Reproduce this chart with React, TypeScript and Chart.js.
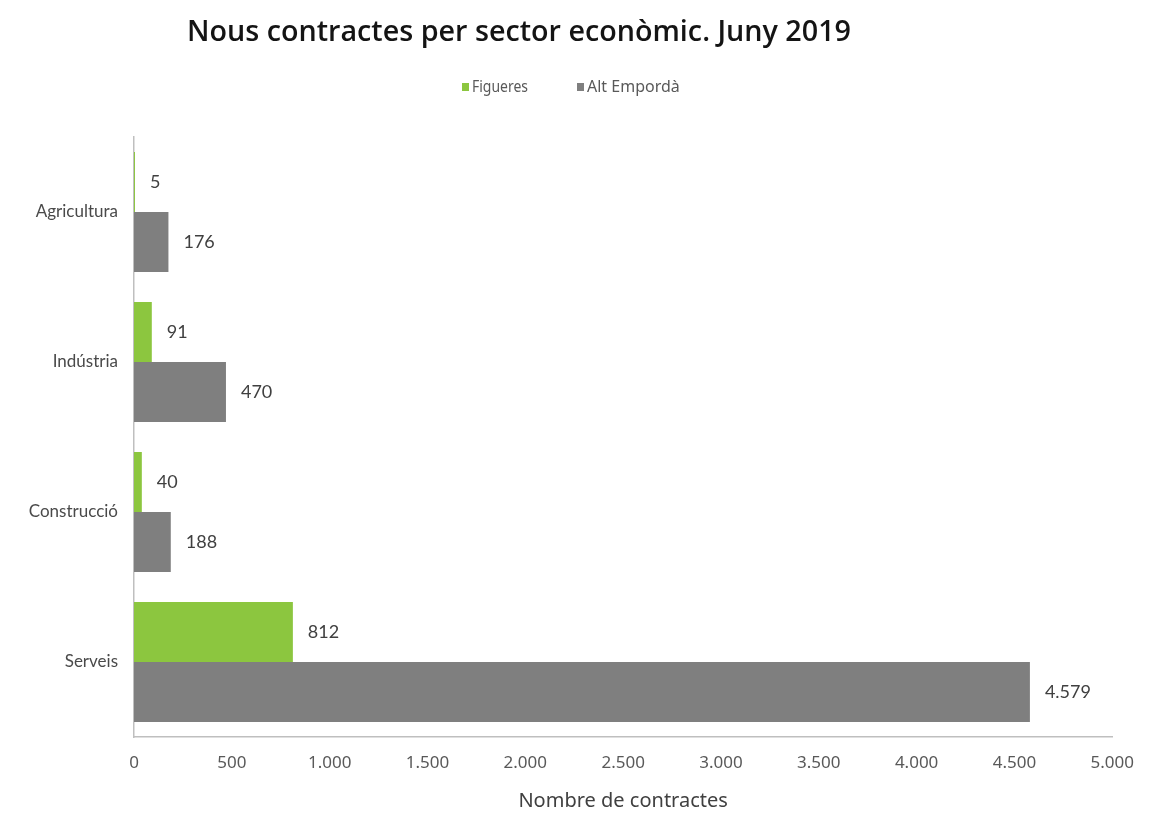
import React, { useEffect, useRef } from "react";
import { Chart, registerables } from "chart.js";

Chart.register(...registerables);

const titleText = "Nous contractes per sector econòmic. Juny 2019";
const categories = ["Agricultura", "Indústria", "Construcció", "Serveis"];
const figueres = [5, 91, 40, 812];
const altEmporda = [176, 470, 188, 4579];
const seriesNames = ["Figueres", "Alt Empordà"];
const seriesColors = ["#8cc63f", "#7f7f7f"];
const xTicks = [0, 500, 1000, 1500, 2000, 2500, 3000, 3500, 4000, 4500, 5000];
const xTitle = "Nombre de contractes";

const fmt = (v: number) => String(Math.round(v)).replace(/\B(?=(\d{3})+(?!\d))/g, ".");

const overlayPlugin = {
  id: "overlay",
  afterDraw(chart: any) {
    const ctx = chart.ctx;
    ctx.save();
    // title
    ctx.fillStyle = "#141414";
    ctx.font = "600 29px 'Open Sans'";
    ctx.textAlign = "center";
    ctx.textBaseline = "middle";
    ctx.fillText(titleText, 519, 33, 664);
    // legend
    ctx.font = "16px 'Noto Sans'";
    ctx.textAlign = "left";
    const items = [
      { x: 462, w: 56, label: seriesNames[0], color: seriesColors[0] },
      { x: 577, w: 117, label: seriesNames[1], color: seriesColors[1] },
    ];
    items.forEach((it) => {
      ctx.fillStyle = it.color;
      ctx.fillRect(it.x, 83, 7, 8);
      ctx.fillStyle = "#595959";
      ctx.fillText(it.label, it.x + 10, 87, it.w);
    });
    // data labels
    ctx.font = "18px Lato";
    ctx.fillStyle = "#404040";
    ctx.textBaseline = "middle";
    chart.data.datasets.forEach((ds: any, di: number) => {
      const meta = chart.getDatasetMeta(di);
      meta.data.forEach((bar: any, i: number) => {
        ctx.fillText(fmt(ds.data[i]), bar.x + 15, bar.y);
      });
    });
    ctx.restore();
  },
};

export default function App() {
  const ref = useRef<HTMLCanvasElement>(null);
  useEffect(() => {
    document.body.style.margin = "0";
    const chart = new Chart(ref.current!, {
      type: "bar",
      data: {
        labels: categories,
        datasets: [
          { label: seriesNames[0], data: figueres, backgroundColor: seriesColors[0] },
          { label: seriesNames[1], data: altEmporda, backgroundColor: seriesColors[1] },
        ],
      },
      options: {
        indexAxis: "y",
        responsive: false,
        animation: false,
        categoryPercentage: 0.8,
        barPercentage: 1.0,
        layout: { padding: { top: 137, right: 37, bottom: 0, left: 0 } },
        plugins: {
          legend: { display: false },
          title: { display: false },
          tooltip: { enabled: false },
        },
        scales: {
          x: {
            min: 0,
            max: 5000,
            afterBuildTicks: (scale: any) => {
              scale.ticks = xTicks.map((v) => ({ value: v }));
            },
            afterFit: (scale: any) => {
              scale.height = 76;
            },
            grid: { display: false, drawTicks: false },
            border: { display: true, color: "#bfbfbf", width: 1.5 },
            ticks: {
              padding: 16,
              color: "#595959",
              font: { family: "'Noto Sans'", size: 17 },
              callback: (v: any) => fmt(Number(v)),
              maxRotation: 0,
            },
            title: {
              display: true,
              text: xTitle,
              color: "#404040",
              font: { family: "'Noto Sans'", size: 20 },
              padding: { top: 0, bottom: 0 },
            },
          },
          y: {
            afterFit: (scale: any) => {
              scale.width = 134;
            },
            grid: { display: false, drawTicks: false },
            border: { display: true, color: "#bfbfbf", width: 1.5 },
            ticks: {
              padding: 16,
              color: "#4a4a4a",
              font: { family: "Lato", size: 17 },
            },
          },
        },
      },
      plugins: [overlayPlugin],
    } as any);
    return () => chart.destroy();
  }, []);
  return <canvas ref={ref} width={1150} height={813} style={{ display: "block" }} />;
}
